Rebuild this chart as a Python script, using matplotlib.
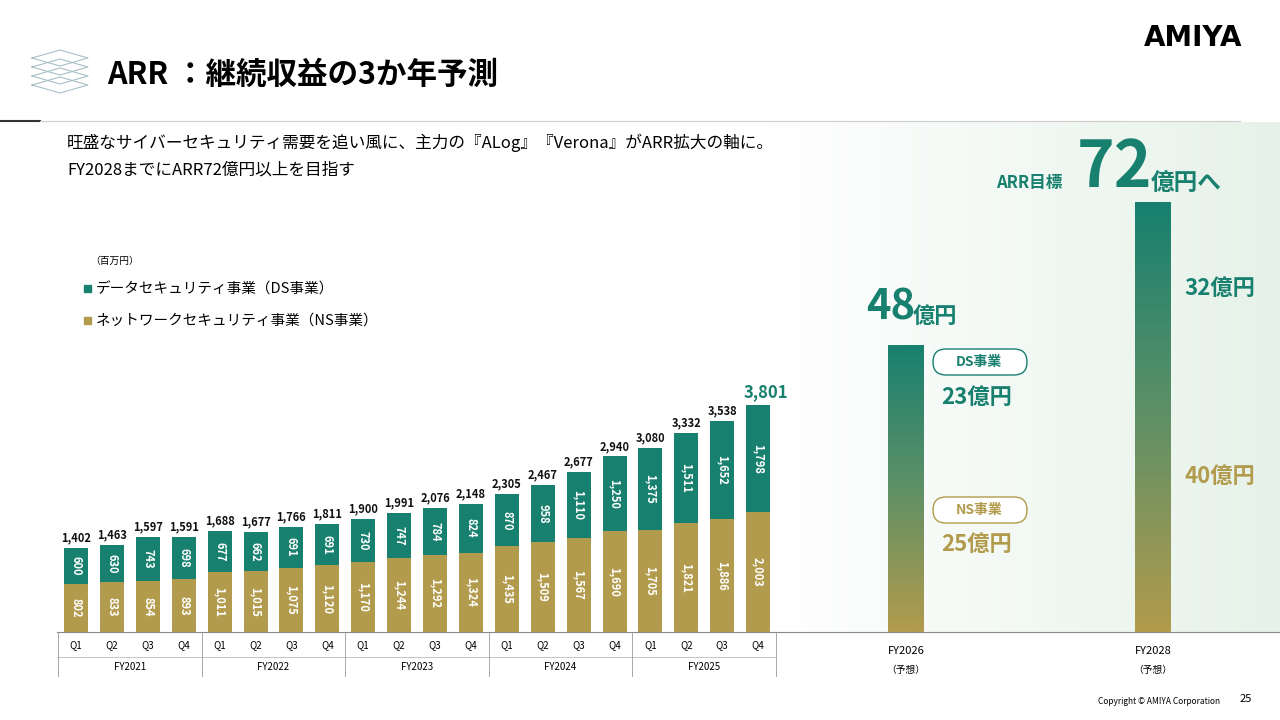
import numpy as np
import matplotlib.pyplot as plt
from matplotlib.patches import Rectangle, FancyBboxPatch
from matplotlib.colors import LinearSegmentedColormap

plt.rcParams['font.family'] = ['Noto Sans CJK JP', 'DejaVu Sans']

# ARR (百万円)
ns = [802, 833, 854, 893, 1011, 1015, 1075, 1120, 1170, 1244, 1292, 1324,
      1435, 1509, 1567, 1690, 1705, 1821, 1886, 2003]
ds = [600, 630, 743, 698, 677, 662, 691, 691, 730, 747, 784, 824,
      870, 958, 1110, 1250, 1375, 1511, 1652, 1798]
years = ['FY2021', 'FY2022', 'FY2023', 'FY2024', 'FY2025']
forecast = {'FY2026': (4800, 2300, 2500), 'FY2028': (7200, 3200, 4000)}

TEAL = '#17806f'
GOLD = '#b29b4c'

fig = plt.figure(figsize=(12.8, 7.2), dpi=100)
# overlay axes in pixel coordinates for decorations
deco = fig.add_axes([0, 0, 1, 1])
deco.set_xlim(0, 1280); deco.set_ylim(720, 0); deco.axis('off')

# light green background panel on the right
grad = np.linspace(0, 1, 256)[None, :]
bgcmap = LinearSegmentedColormap.from_list('bg', ['#ffffff', '#e6f2e9'])
deco.imshow(grad, extent=(765, 1280, 632, 122), cmap=bgcmap, aspect='auto', zorder=0)

# chart axes: baseline at y=632px, 0.0597 px per 百万円
ax = fig.add_axes([0, 88 / 720, 1, 632 / 720])
ax.set_xlim(0, 1280); ax.set_ylim(0, 632 / 0.0597); ax.axis('off')
ax.patch.set_alpha(0)

xs = [76 + 35.9 * i for i in range(len(ns))]
w = 24
ax.bar(xs, ns, width=w, color=GOLD, zorder=3)
ax.bar(xs, ds, width=w, bottom=ns, color=TEAL, zorder=3)
for i, x in enumerate(xs):
    ax.text(x, ns[i] / 2, f'{ns[i]:,}', rotation=-90, ha='center', va='center',
            color='white', fontsize=8, fontweight='bold', zorder=4)
    ax.text(x, ns[i] + ds[i] / 2, f'{ds[i]:,}', rotation=-90, ha='center', va='center',
            color='white', fontsize=8, fontweight='bold', zorder=4)
    tot = ns[i] + ds[i]
    big = i == len(xs) - 1
    ax.text(x + (8 if big else 0), tot + 60, f'{tot:,}', ha='center', va='bottom',
            fontsize=12 if big else 8, fontweight='bold',
            color=TEAL if big else '#111111', zorder=4)

# forecast bars with vertical gradient
gcmap = LinearSegmentedColormap.from_list('g', [GOLD, '#5f9066', TEAL])
vert = np.linspace(0, 1, 256)[:, None]
for fx, (key, (tot, dsv, nsv)) in zip([906, 1153], forecast.items()):
    im = ax.imshow(vert, extent=(fx - 18, fx + 18, 0, tot), origin='lower',
                   cmap=gcmap, aspect='auto', zorder=3)
    im.set_clip_path(Rectangle((fx - 18, 0), 36, tot, transform=ax.transData))
    deco.text(fx, 651, key, ha='center', va='center', fontsize=8)
    deco.text(fx, 670, '（予想）', ha='center', va='center', fontsize=7)

ax.set_xlim(0, 1280)

# category table under the bars
deco.plot([57, 775], [632, 632], color='#888888', lw=0.8)
deco.plot([775, 1280], [632, 632], color='#888888', lw=0.8)
deco.plot([57, 775], [657, 657], color='#bbbbbb', lw=0.6)
for k in range(6):
    xb = 58 + 143.6 * k
    deco.plot([xb, xb], [632, 676], color='#999999', lw=0.6)
for i, x in enumerate(xs):
    deco.text(x, 645, f'Q{i % 4 + 1}', ha='center', va='center', fontsize=7)
for k, y in enumerate(years):
    deco.text(58 + 143.6 * k + 71.8, 667, y, ha='center', va='center', fontsize=7)

# legend
deco.text(90, 261, '（百万円）', fontsize=7, va='center')
deco.add_patch(Rectangle((84, 285), 7, 7, color=TEAL))
deco.text(96, 289, 'データセキュリティ事業（DS事業）', fontsize=10.5, va='center')
deco.add_patch(Rectangle((84, 317), 7, 7, color=GOLD))
deco.text(96, 321, 'ネットワークセキュリティ事業（NS事業）', fontsize=10.5, va='center')

# forecast annotations
deco.text(866, 308, '48', fontsize=30, fontweight='bold', color=TEAL, va='center')
deco.text(913, 316, '億円', fontsize=16, fontweight='bold', color=TEAL, va='center')
for yy, txt, col in [(362, 'DS事業', TEAL), (510, 'NS事業', GOLD)]:
    deco.add_patch(FancyBboxPatch((933, yy - 13), 94, 26, boxstyle='round,pad=0,rounding_size=13',
                                  fc='white', ec=col, lw=1))
    deco.text(979, yy, txt, fontsize=10, fontweight='bold', color=col, ha='center', va='center')
deco.text(977, 397, '23億円', fontsize=16, fontweight='bold', color=TEAL, ha='center', va='center')
deco.text(977, 544, '25億円', fontsize=16, fontweight='bold', color=GOLD, ha='center', va='center')
deco.text(1220, 288, '32億円', fontsize=16, fontweight='bold', color=TEAL, ha='center', va='center')
deco.text(1220, 476, '40億円', fontsize=16, fontweight='bold', color=GOLD, ha='center', va='center')
deco.text(996, 183, 'ARR目標', fontsize=12, fontweight='bold', color=TEAL, va='center')
deco.text(1115, 168, '72', fontsize=46, fontweight='bold', color=TEAL, ha='center', va='center')
deco.text(1151, 183, '億円へ', fontsize=17, fontweight='bold', color=TEAL, va='center')

# header
deco.text(107, 75, 'ARR ：継続収益の3か年予測', fontsize=22, fontweight='bold', va='center')
for k in range(4):
    yk = 58 + 9 * k
    deco.plot([32, 60, 88, 60, 32], [yk, yk - 8, yk, yk + 8, yk], color='#a9c0c8', lw=0.8)
deco.text(1193, 38, 'AMIYA', fontsize=20, fontweight='bold', ha='center', va='center',
          family=['DejaVu Sans'])
deco.plot([0, 40], [121, 121], color='#333333', lw=1.5)
deco.plot([40, 1240], [121, 121], color='#cccccc', lw=0.8)
deco.text(67, 143, '旺盛なサイバーセキュリティ需要を追い風に、主力の『ALog』『Verona』がARR拡大の軸に。',
          fontsize=12, va='center')
deco.text(67, 170, 'FY2028までにARR72億円以上を目指す', fontsize=12, va='center')
deco.text(1220, 701, 'Copyright © AMIYA Corporation', fontsize=6, ha='right', va='center')
deco.text(1246, 699, '25', fontsize=8, ha='center', va='center')

fig.savefig('out.png', dpi=100)
